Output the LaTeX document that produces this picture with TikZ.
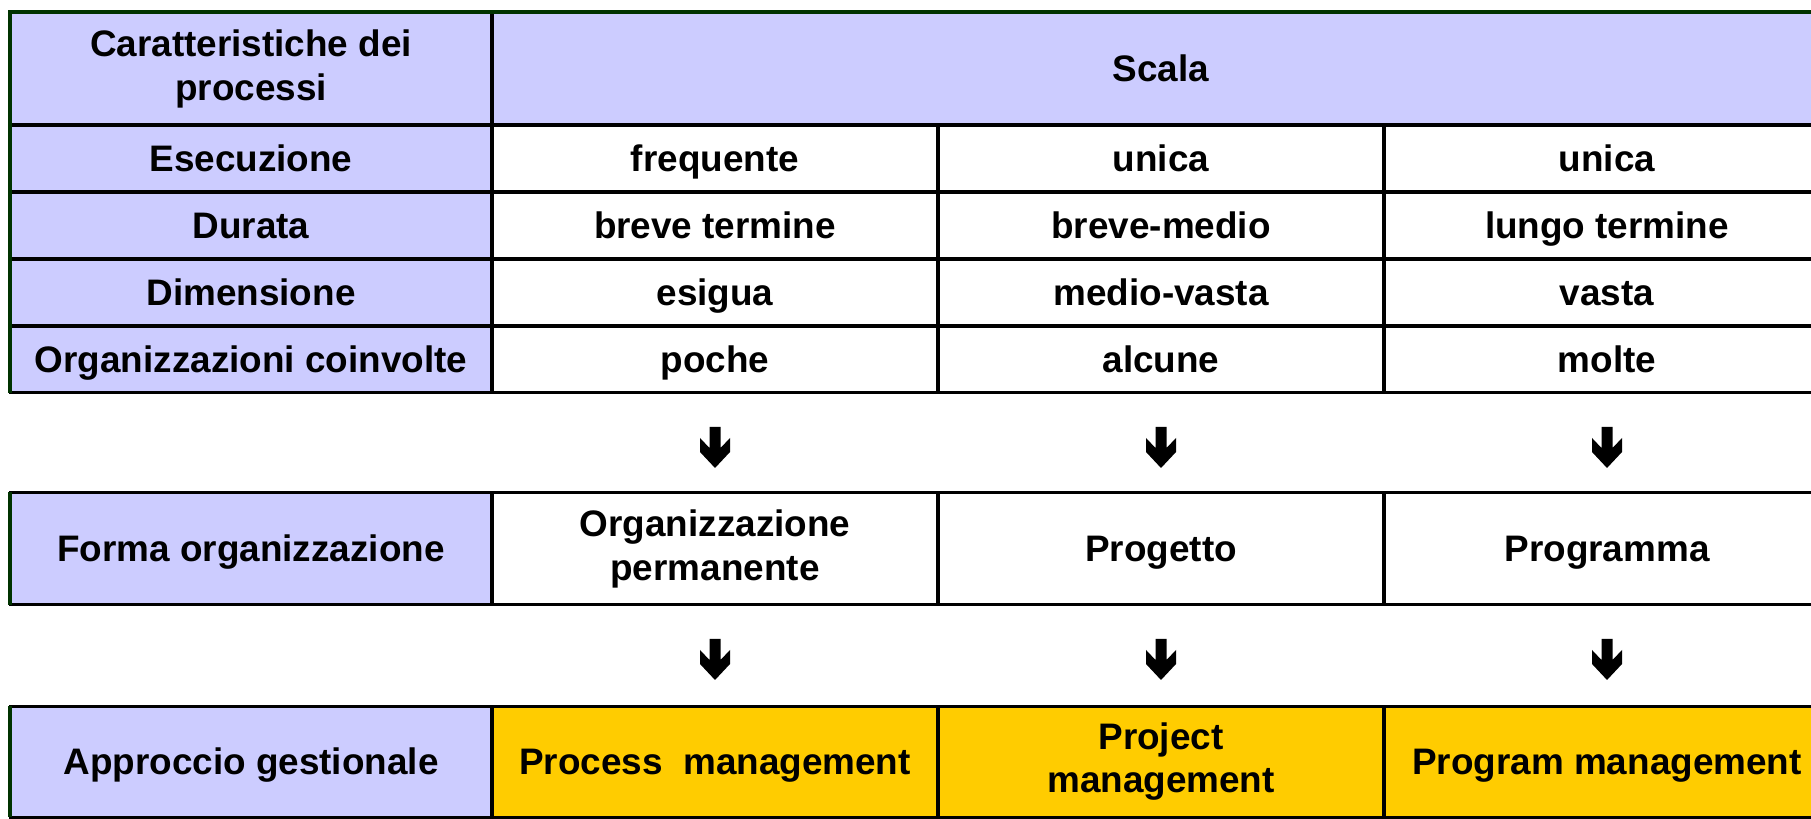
\documentclass[tikz,border=0pt]{standalone}
\usepackage{fontspec}
\setmainfont{Liberation Sans}
\usetikzlibrary{positioning}
\definecolor{lav}{HTML}{CCCCFF}
\definecolor{gold}{HTML}{FFCC00}
\definecolor{dkgreen}{HTML}{003300}

\begin{document}
\begin{tikzpicture}[
      x = 0.02cm, y = -0.02cm, % one unit = one pixel, y going down
      every node/.style = {font = \fontsize{21}{25}\selectfont\bfseries, align = center},
    ]

    \tikzset{
      cell/.style = {draw = black, line width = 0.06cm, rectangle, inner sep = 0pt, outer sep = 0pt,
        text height = 15pt, text depth = 0.5pt},
      twoline/.style = {text height = , text depth = },
      head/.style = {cell, fill = lav, minimum width = 9.64cm},
      val/.style = {cell, fill = white, minimum width = 8.92cm},
      mgmt/.style = {val, fill = gold},
      tall/.style = {minimum height = 2.26cm},
      low/.style = {minimum height = 1.34cm},
      rim/.style = {draw = dkgreen, line width = 0.08cm},
      downarr/.pic = {
        \fill (-5.5,0) -- (5.5,0) -- (5.5,21) -- (15,11) -- (15,25) -- (0,41)
          -- (-15,25) -- (-15,11) -- (-5.5,21) -- cycle;
      }
    }

    \useasboundingbox (0,0) rectangle (1811,818);
    \clip (0,0) rectangle (1811,818);

    % table of characteristics
    \node[head, tall, twoline] (carat) [at={(251, 68.5)}] {Caratteristiche dei\\processi};
    \node[cell, tall, fill = lav, minimum width = 26.76cm] (scala) [at={(1161, 68.5)}] {Scala};

    \node[head, low] (esec) [at={(251, 158.5)}] {Esecuzione};
    \node[val, low] (freq) [at={(715, 158.5)}] {frequente};
    \node[val, low] (unica1) [at={(1161, 158.5)}] {unica};
    \node[val, low] (unica2) [at={(1607, 158.5)}] {unica};

    \node[head, low] (durata) [at={(251, 225.5)}] {Durata};
    \node[val, low] (breve) [at={(715, 225.5)}] {breve termine};
    \node[val, low] (brevemed) [at={(1161, 225.5)}] {breve-medio};
    \node[val, low] (lungo) [at={(1607, 225.5)}] {lungo termine};

    \node[head, low] (dimens) [at={(251, 292.5)}] {Dimensione};
    \node[val, low] (esigua) [at={(715, 292.5)}] {esigua};
    \node[val, low] (mediov) [at={(1161, 292.5)}] {medio-vasta};
    \node[val, low] (vasta) [at={(1607, 292.5)}] {vasta};

    \node[head, low] (orgcoin) [at={(251, 359.5)}] {Organizzazioni coinvolte};
    \node[val, low] (poche) [at={(715, 359.5)}] {poche};
    \node[val, low] (alcune) [at={(1161, 359.5)}] {alcune};
    \node[val, low] (molte) [at={(1607, 359.5)}] {molte};

    % organisational form
    \node[head, tall] (forma) [at={(251, 548.5)}] {Forma organizzazione};
    \node[val, tall, twoline] (orgperm) [at={(715, 548.5)}] {Organizzazione\\permanente};
    \node[val, tall] (progetto) [at={(1161, 548.5)}] {Progetto};
    \node[val, tall] (programma) [at={(1607, 548.5)}] {Programma};

    % management approach
    \node[head, minimum height = 2.22cm] (approc) [at={(251, 761.5)}] {Approccio gestionale};
    \node[mgmt, minimum height = 2.22cm] (procm) [at={(715, 761.5)}] {Process\ \ management};
    \node[mgmt, minimum height = 2.22cm, twoline] (projm) [at={(1161, 761.5)}] {Project\\management};
    \node[mgmt, minimum height = 2.22cm] (progm) [at={(1607, 761.5)}] {Program management};

    % green rims
    \draw[rim] (orgcoin.south west) -- (carat.north west) -- (scala.north east);
    \draw[rim] (forma.north west) -- (forma.south west);
    \draw[rim] (approc.north west) -- (approc.south west);

    \pic at ([yshift=-0.68cm]poche.south) {downarr};
    \pic at ([yshift=-0.68cm]alcune.south) {downarr};
    \pic at ([yshift=-0.68cm]molte.south) {downarr};
    \pic at ([yshift=-0.68cm]orgperm.south) {downarr};
    \pic at ([yshift=-0.68cm]progetto.south) {downarr};
    \pic at ([yshift=-0.68cm]programma.south) {downarr};
  \end{tikzpicture}
\end{document}
